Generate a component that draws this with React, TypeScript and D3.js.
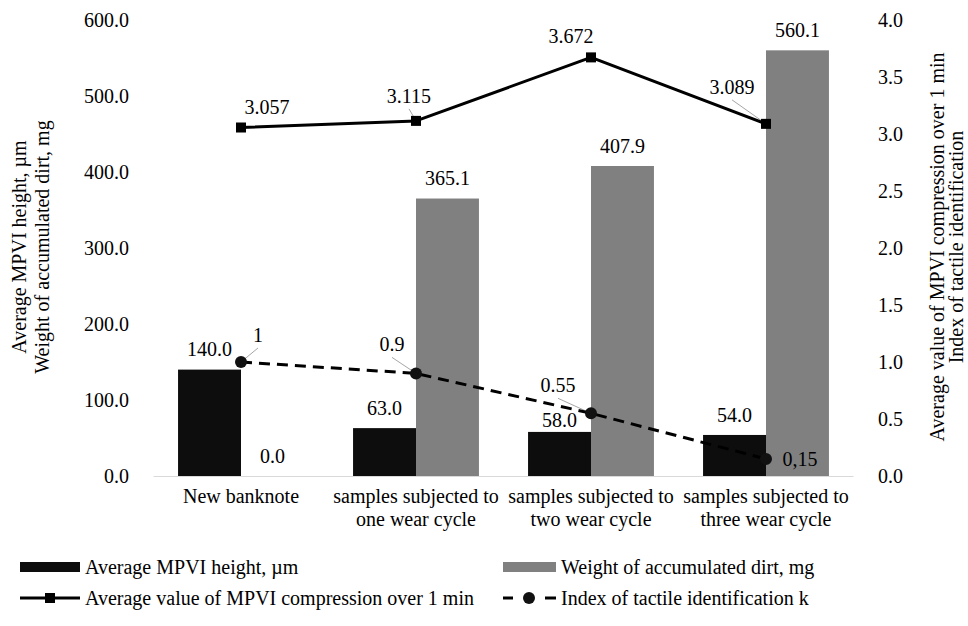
import * as d3 from "d3";

// chart data
const categories = ["New banknote", "one wear cycle", "two wear cycle", "three wear cycle"];
const categoryLabels = [
  ["New banknote"],
  ["samples subjected to", "one wear cycle"],
  ["samples subjected to", "two wear cycle"],
  ["samples subjected to", "three wear cycle"],
];
const mpviHeight = [140.0, 63.0, 58.0, 54.0];
const dirtWeight = [0.0, 365.1, 407.9, 560.1];
const compression = [3.057, 3.115, 3.672, 3.089];
const tactileIndex = [1, 0.9, 0.55, 0.15];
const tactileText = ["1", "0.9", "0.55", "0,15"];
const leftTicks = [0, 100, 200, 300, 400, 500, 600];
const rightTicks = [0, 0.5, 1, 1.5, 2, 2.5, 3, 3.5, 4];
const barSeries = ["mpvi", "dirt"];

// label placement (dx, dy from point, leader line?)
const compressionLabelPos: [number, number, boolean][] = [[26, -20, false], [-7, -25, true], [-20, -21, false], [-34, -37, true]];
const tactileLabelPos: [number, number, boolean][] = [[17, -27, true], [-24, -29, true], [-33, -28, true], [34, 0, false]];
const mpviLabelDy = [-20, -20, -12, -20];

const W = 968, H = 626;
const BLACK = "#0d0d0d", GRAY = "#808080";

const x0 = d3.scaleBand().domain(categories).range([153.5, 853.5]);
const x1 = d3.scaleBand().domain(barSeries).range([0, x0.bandwidth()]).paddingInner(0).paddingOuter(0.39);
const yL = d3.scaleLinear().domain([0, 600]).range([476, 20]);
const yR = d3.scaleLinear().domain([0, 4]).range([476, 20]);
const cx = (i: number) => (x0(categories[i]) as number) + x0.bandwidth() / 2;
const line = d3.line<number>().x((_, i) => cx(i)).y(d => yR(d));

// text helper: serif font set on each element, vertically centred with dy
const T = (props: any) => (
  <text fontFamily="Liberation Serif" fontSize={20} fill="#000" dy="0.34em" {...props} />
);

const App = () => (
  <div style={{ position: "absolute", left: 0, top: 0 }}>
    <svg width={W} height={H} style={{ display: "block", background: "#fff" }}>
      {/* left axis labels */}
      {leftTicks.map(t => (
        <T key={"l" + t} x={129} y={yL(t)} textAnchor="end">{t.toFixed(1)}</T>
      ))}
      {/* right axis labels */}
      {rightTicks.map(t => (
        <T key={"r" + t} x={878} y={yR(t)}>{t.toFixed(1)}</T>
      ))}

      {/* axis titles */}
      <text transform="translate(0,247) rotate(-90)" textAnchor="middle" fontFamily="Liberation Serif" fontSize={20}>
        <tspan x={0} y={26}>Average MPVI height, µm</tspan>
        <tspan x={0} y={49}>Weight of accumulated dirt, mg</tspan>
      </text>
      <text transform="translate(0,247) rotate(-90)" textAnchor="middle" fontFamily="Liberation Serif" fontSize={20}>
        <tspan x={0} y={944}>Average value of MPVI compression over 1 min</tspan>
        <tspan x={0} y={963}>Index of tactile identification</tspan>
      </text>

      {/* bars */}
      {categories.map((c, i) => {
        const bx = x0(c) as number;
        const mx = bx + (x1("mpvi") as number);
        const gx = bx + (x1("dirt") as number);
        return (
          <g key={c}>
            <rect x={mx} width={x1.bandwidth()} y={yL(mpviHeight[i])} height={yL(0) - yL(mpviHeight[i])} fill={BLACK} />
            <rect x={gx} width={x1.bandwidth()} y={yL(dirtWeight[i])} height={yL(0) - yL(dirtWeight[i])} fill={GRAY} />
            <T x={mx + x1.bandwidth() / 2} y={yL(mpviHeight[i]) + mpviLabelDy[i]} textAnchor="middle">
              {mpviHeight[i].toFixed(1)}
            </T>
            <T x={gx + x1.bandwidth() / 2} y={yL(dirtWeight[i]) - 20} textAnchor="middle">
              {dirtWeight[i].toFixed(1)}
            </T>
          </g>
        );
      })}

      {/* category axis */}
      <line x1={153.5} x2={853.5} y1={476.5} y2={476.5} stroke="#d9d9d9" strokeWidth={1} />
      {categoryLabels.map((lines, i) => (
        <text key={"c" + i} textAnchor="middle" fontFamily="Liberation Serif" fontSize={20}>
          {lines.map((l, j) => <tspan key={j} x={cx(i)} y={503 + j * 23}>{l}</tspan>)}
        </text>
      ))}

      {/* leader lines */}
      <g stroke="#a6a6a6" strokeWidth={1}>
        {compression.map((v, i) => compressionLabelPos[i][2] && (
          <line key={"lc" + i} x1={cx(i)} y1={yR(v)} x2={cx(i) + compressionLabelPos[i][0]} y2={yR(v) + compressionLabelPos[i][1] + 13} />
        ))}
        {tactileIndex.map((v, i) => tactileLabelPos[i][2] && (
          <line key={"lt" + i} x1={cx(i)} y1={yR(v)} x2={cx(i) + tactileLabelPos[i][0]} y2={yR(v) + tactileLabelPos[i][1] + 13} />
        ))}
      </g>

      {/* compression line */}
      <path d={line(compression) ?? ""} fill="none" stroke="#000" strokeWidth={3} strokeLinejoin="round" />
      {compression.map((v, i) => (
        <rect key={"m" + i} x={cx(i) - 5} y={yR(v) - 5} width={10} height={10} fill="#000" />
      ))}
      {compression.map((v, i) => (
        <T key={"t" + i} x={cx(i) + compressionLabelPos[i][0]} y={yR(v) + compressionLabelPos[i][1]} textAnchor="middle">
          {v.toFixed(3)}
        </T>
      ))}

      {/* tactile index line */}
      <path d={line(tactileIndex) ?? ""} fill="none" stroke="#000" strokeWidth={3} strokeDasharray="11,7" />
      {tactileIndex.map((v, i) => (
        <circle key={"k" + i} cx={cx(i)} cy={yR(v)} r={6} fill="#111" />
      ))}
      {tactileIndex.map((v, i) => (
        <T key={"kt" + i} x={cx(i) + tactileLabelPos[i][0]} y={yR(v) + tactileLabelPos[i][1]} textAnchor="middle">
          {tactileText[i]}
        </T>
      ))}

      {/* legend */}
      <rect x={20} y={562} width={60} height={10} fill={BLACK} />
      <T x={85} y={567}>Average MPVI height, µm</T>
      <rect x={503} y={562} width={53} height={10} fill={GRAY} />
      <T x={561} y={567}>Weight of accumulated dirt, mg</T>

      <line x1={20} x2={80} y1={598} y2={598} stroke="#000" strokeWidth={3} />
      <rect x={45} y={593} width={10} height={10} fill="#000" />
      <T x={85} y={598}>Average value of MPVI compression over 1 min</T>
      <line x1={503} x2={513} y1={598} y2={598} stroke="#000" strokeWidth={3} />
      <line x1={545} x2={556} y1={598} y2={598} stroke="#000" strokeWidth={3} />
      <circle cx={529} cy={598} r={6} fill="#111" />
      <T x={561} y={598}>Index of tactile identification k</T>
    </svg>
  </div>
);

export default App;
